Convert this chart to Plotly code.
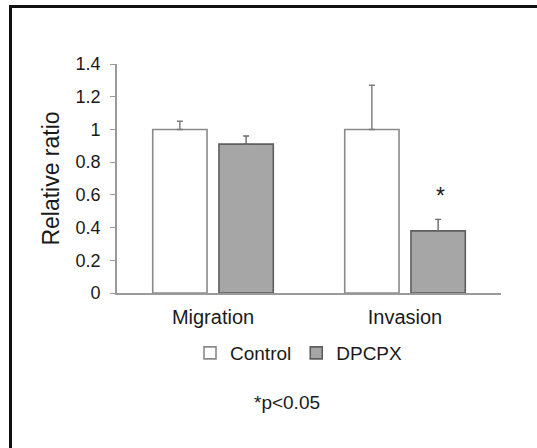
import plotly.graph_objects as go

categories = ["Migration", "Invasion"]
control_vals = [1.0, 1.0]
control_err = [0.05, 0.27]
dpcpx_vals = [0.91, 0.38]
dpcpx_err = [0.05, 0.07]
y_ticks = [0, 0.2, 0.4, 0.6, 0.8, 1.0, 1.2, 1.4]
y_tick_labels = ["0", "0.2", "0.4", "0.6", "0.8", "1", "1.2", "1.4"]

W, H = 537, 448
L, R, T, B = 117, 36, 64, 155
pw = W - L - R
ph = H - T - B

def px(xp):
    return (xp - L) / pw

def py(yp):
    return (H - B - yp) / ph

FONT = "Liberation Sans, Arial, sans-serif"
TXT = "#1a1a1a"

fig = go.Figure()
fig.add_trace(go.Bar(
    name="Control", x=categories, y=control_vals,
    marker=dict(color="white", line=dict(color="#8a8a8a", width=1.6)),
    error_y=dict(type="data", array=control_err, symmetric=False, arrayminus=[0, 0],
                 color="#7a7a7a", thickness=1.4, width=3),
))
fig.add_trace(go.Bar(
    name="DPCPX", x=categories, y=dpcpx_vals,
    marker=dict(color="#a6a6a6", line=dict(color="#5e5e5e", width=1.6)),
    error_y=dict(type="data", array=dpcpx_err, symmetric=False, arrayminus=[0, 0],
                 color="#6a6a6a", thickness=1.4, width=3),
))

fig.add_annotation(x="Invasion", y=0.59, xref="x", yref="y", xshift=35,
                   xanchor="center", yanchor="middle",
                   text="*", showarrow=False, font=dict(family=FONT, size=23, color=TXT))
fig.add_annotation(x=px(287), y=py(402), xref="paper", yref="paper",
                   xanchor="center", yanchor="middle",
                   text="*p<0.05", showarrow=False, font=dict(family=FONT, size=19, color=TXT))

# frame: top and left border
fig.add_shape(type="line", xref="paper", yref="paper",
              x0=px(9), y0=py(6.5), x1=px(538), y1=py(6.5),
              line=dict(color="#111", width=3))
fig.add_shape(type="line", xref="paper", yref="paper",
              x0=px(10.5), y0=py(449), x1=px(10.5), y1=py(5),
              line=dict(color="#111", width=3))

fig.update_layout(
    width=W, height=H,
    margin=dict(l=L, r=R, t=T, b=B),
    paper_bgcolor="white", plot_bgcolor="white",
    barmode="group", bargap=0.31, bargroupgap=0.18,
    font=dict(family=FONT, color=TXT),
    showlegend=True,
    legend=dict(orientation="h", x=px(299), xanchor="center", y=py(353), yanchor="middle",
                font=dict(family=FONT, size=19, color=TXT), itemwidth=30,
                traceorder="normal", bgcolor="rgba(0,0,0,0)"),
    xaxis=dict(showline=True, linecolor="#9a9a9a", linewidth=1.6, ticks="",
               tickfont=dict(family=FONT, size=20, color=TXT),
               ticklabelstandoff=5, showgrid=False, zeroline=False),
    yaxis=dict(range=[0, 1.4], tickvals=y_ticks, ticktext=y_tick_labels,
               showline=True, linecolor="#9a9a9a", linewidth=1.6,
               ticks="outside", ticklen=5, tickcolor="#9a9a9a", tickwidth=1.4,
               tickfont=dict(family=FONT, size=18, color=TXT), ticklabelstandoff=6,
               showgrid=False, zeroline=False,
               title=dict(text="Relative ratio", font=dict(family=FONT, size=23, color=TXT),
                          standoff=10)),
)

fig.write_html("out.html", config={"displayModeBar": False},
               post_script="document.body.style.margin='0';document.body.style.overflow='hidden';")
